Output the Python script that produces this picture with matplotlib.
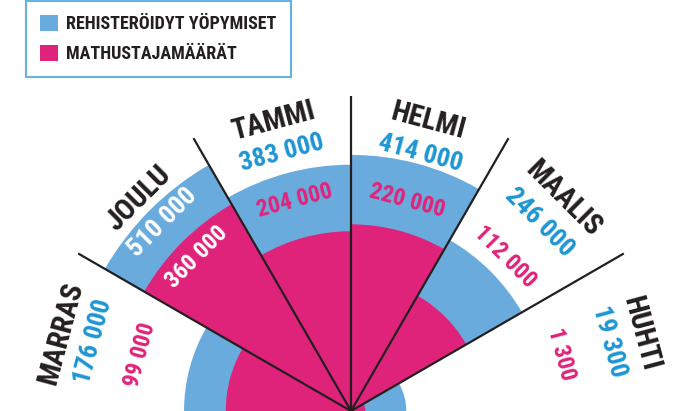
import numpy as np
import matplotlib.pyplot as plt
from matplotlib.patches import Wedge, Patch
from matplotlib import font_manager

# data (from HUHTI on the right to MARRAS on the left)
kuukaudet = ['HUHTI', 'MAALIS', 'HELMI', 'TAMMI', 'JOULU', 'MARRAS']
yopymiset = [19300, 246000, 414000, 383000, 510000, 176000]
matkustajat = [1300, 112000, 220000, 204000, 360000, 99000]

sininen = '#6aabdd'
sininen_teksti = '#1e96d4'
pinkki = '#e0237a'
musta = '#231f20'

# kapea fontti jos löytyy
asennetut = {f.name for f in font_manager.fontManager.ttflist}
ehdokkaat = ['Roboto Condensed', 'DejaVu Sans Condensed', 'Liberation Sans Narrow',
             'Open Sans Condensed', 'Roboto']
fontti = [f for f in ehdokkaat if f in asennetut][:1] + ['DejaVu Sans']
plt.rcParams['font.family'] = fontti
plt.rcParams['font.weight'] = 'bold'
plt.rcParams['font.stretch'] = 'condensed'

fig = plt.figure(figsize=(6.89, 4.11), dpi=100)
ax = fig.add_axes([0, 0, 1, 1])
ax.set_xlim(0, 689)
ax.set_ylim(0, 411)
ax.set_aspect('equal')
ax.axis('off')

cx, cy = 351, 0
k = 0.398  # sade = k * sqrt(arvo)
leveys = 180 / len(kuukaudet)


def tuhannet(v):
    return f'{v:,}'.replace(',', ' ')


for i, (kk, y, m) in enumerate(zip(kuukaudet, yopymiset, matkustajat)):
    t1 = i * leveys
    t2 = t1 + leveys
    mid = (t1 + t2) / 2
    r_y = k * np.sqrt(y)
    r_m = k * np.sqrt(m)
    ax.add_patch(Wedge((cx, cy), r_y, t1, t2, facecolor=sininen, edgecolor='none'))
    ax.add_patch(Wedge((cx, cy), r_m, t1, t2, facecolor=pinkki, edgecolor='none'))

    a = np.radians(mid)
    rot = mid - 90
    # kuukausi
    ax.text(cx + 300 * np.cos(a), cy + 300 * np.sin(a), kk, rotation=rot,
            rotation_mode='anchor', ha='center', va='center', fontsize=21,
            color=musta)
    # yöpymiset
    r_txt = 267
    ax.text(cx + r_txt * np.cos(a), cy + r_txt * np.sin(a), tuhannet(y),
            rotation=rot, rotation_mode='anchor', ha='center', va='center',
            fontsize=19, color='white' if r_txt < r_y else sininen_teksti)
    # matkustajat
    r_txt = 218
    ax.text(cx + r_txt * np.cos(a), cy + r_txt * np.sin(a), tuhannet(m),
            rotation=rot, rotation_mode='anchor', ha='center', va='center',
            fontsize=17, color='white' if r_txt < r_m else pinkki)

# jakoviivat
for i in range(1, len(kuukaudet)):
    a = np.radians(i * leveys)
    ax.plot([cx, cx + 315 * np.cos(a)], [cy, cy + 315 * np.sin(a)],
            color=musta, lw=1.6, solid_capstyle='butt')

kahvat = [Patch(facecolor=sininen, edgecolor='none'),
          Patch(facecolor=pinkki, edgecolor='none')]
leg = ax.legend(kahvat, ['REHISTERÖIDYT YÖPYMISET', 'MATHUSTAJAMÄÄRÄT'],
                loc='upper left', bbox_to_anchor=(26 / 689, 1 - 1 / 411),
                borderaxespad=0, fancybox=False,
                handlelength=1.0, handleheight=1.0, handletextpad=0.45,
                labelspacing=0.65, borderpad=0.78,
                prop={'weight': 'bold', 'size': 13})
leg.get_frame().set_edgecolor('#3fa0dc')
leg.get_frame().set_linewidth(1.5)
for t in leg.get_texts():
    t.set_color(musta)

fig.savefig('out.png', dpi=100)
